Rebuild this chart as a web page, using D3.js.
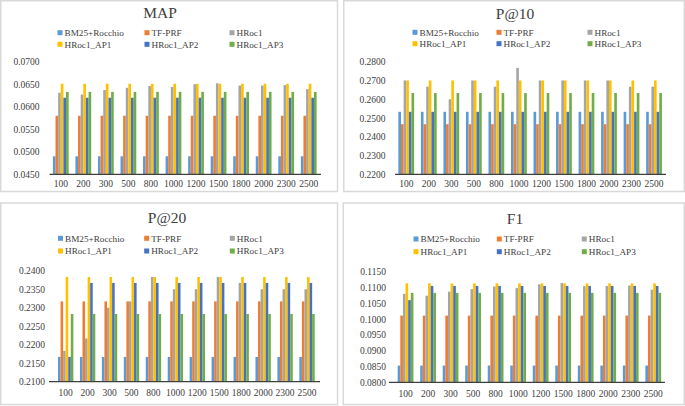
<!DOCTYPE html>
<html>
<head>
<meta charset="utf-8">
<script src="https://cdn.jsdelivr.net/npm/d3@7/dist/d3.min.js"></script>
<style>
  html, body { margin: 0; padding: 0; background: #fff; }
  svg { display: block; }
  text { font-family: "Liberation Serif", "Times New Roman", serif; fill: #404040; }
</style>
</head>
<body>
<svg id="chart" width="685" height="406"></svg>
<script>
// ---------- DATA ----------
const categories = ["100","200","300","500","800","1000","1200","1500","1800","2000","2300","2500"];
const seriesNames = ["BM25+Rocchio","TF-PRF","HRoc1","HRoc1_AP1","HRoc1_AP2","HRoc1_AP3"];
const seriesColors = ["#5B9BD5","#ED7D31","#A5A5A5","#FFC000","#4472C4","#70AD47"];

// MAP
const mapBM25   = [0.0490,0.0490,0.0490,0.0490,0.0490,0.0490,0.0490,0.0490,0.0490,0.0490,0.0490,0.0490];
const mapTFPRF  = [0.0580,0.0580,0.0580,0.0580,0.0580,0.0580,0.0580,0.0580,0.0580,0.0580,0.0580,0.0580];
const mapHRoc1  = [0.0631,0.0627,0.0637,0.0642,0.0646,0.0644,0.0650,0.0652,0.0647,0.0647,0.0648,0.0639];
const mapAP1    = [0.0651,0.0651,0.0651,0.0651,0.0651,0.0651,0.0651,0.0651,0.0651,0.0651,0.0651,0.0651];
const mapAP2    = [0.0620,0.0620,0.0620,0.0620,0.0620,0.0620,0.0620,0.0620,0.0620,0.0620,0.0620,0.0620];
const mapAP3    = [0.0633,0.0633,0.0633,0.0633,0.0633,0.0633,0.0633,0.0633,0.0633,0.0633,0.0633,0.0633];
const mapTicks  = [0.0450,0.0500,0.0550,0.0600,0.0650,0.0700];

// P@10
const p10BM25   = [0.2533,0.2533,0.2533,0.2533,0.2533,0.2533,0.2533,0.2533,0.2533,0.2533,0.2533,0.2533];
const p10TFPRF  = [0.2467,0.2467,0.2467,0.2467,0.2467,0.2467,0.2467,0.2467,0.2467,0.2467,0.2467,0.2467];
const p10HRoc1  = [0.2700,0.2667,0.2600,0.2700,0.2667,0.2767,0.2700,0.2700,0.2700,0.2700,0.2667,0.2667];
const p10AP1    = [0.2700,0.2700,0.2700,0.2700,0.2700,0.2700,0.2700,0.2700,0.2700,0.2700,0.2700,0.2700];
const p10AP2    = [0.2533,0.2533,0.2533,0.2533,0.2533,0.2533,0.2533,0.2533,0.2533,0.2533,0.2533,0.2533];
const p10AP3    = [0.2633,0.2633,0.2633,0.2633,0.2633,0.2633,0.2633,0.2633,0.2633,0.2633,0.2633,0.2633];
const p10Ticks  = [0.2200,0.2300,0.2400,0.2500,0.2600,0.2700,0.2800];

// P@20
const p20BM25   = [0.2167,0.2167,0.2167,0.2167,0.2167,0.2167,0.2167,0.2167,0.2167,0.2167,0.2167,0.2167];
const p20TFPRF  = [0.2317,0.2317,0.2317,0.2317,0.2317,0.2317,0.2317,0.2317,0.2317,0.2317,0.2317,0.2317];
const p20HRoc1  = [0.2183,0.2217,0.2300,0.2317,0.2383,0.2350,0.2350,0.2383,0.2367,0.2350,0.2350,0.2350];
const p20AP1    = [0.2383,0.2383,0.2383,0.2383,0.2383,0.2383,0.2383,0.2383,0.2383,0.2383,0.2383,0.2383];
const p20AP2    = [0.2167,0.2367,0.2367,0.2367,0.2367,0.2367,0.2367,0.2367,0.2367,0.2367,0.2367,0.2367];
const p20AP3    = [0.2283,0.2283,0.2283,0.2283,0.2283,0.2283,0.2283,0.2283,0.2283,0.2283,0.2283,0.2283];
const p20Ticks  = [0.2100,0.2150,0.2200,0.2250,0.2300,0.2350,0.2400];

// F1
const f1BM25    = [0.0853,0.0853,0.0853,0.0853,0.0853,0.0853,0.0853,0.0853,0.0853,0.0853,0.0853,0.0853];
const f1TFPRF   = [0.1011,0.1011,0.1011,0.1011,0.1011,0.1011,0.1011,0.1011,0.1011,0.1011,0.1011,0.1011];
const f1HRoc1   = [0.1080,0.1074,0.1087,0.1095,0.1103,0.1098,0.1110,0.1114,0.1104,0.1105,0.1106,0.1093];
const f1AP1     = [0.1113,0.1113,0.1113,0.1113,0.1113,0.1113,0.1113,0.1113,0.1113,0.1113,0.1113,0.1113];
const f1AP2     = [0.1060,0.1105,0.1105,0.1105,0.1105,0.1105,0.1105,0.1105,0.1105,0.1105,0.1105,0.1105];
const f1AP3     = [0.1083,0.1083,0.1083,0.1083,0.1083,0.1083,0.1083,0.1083,0.1083,0.1083,0.1083,0.1083];
const f1Ticks   = [0.0800,0.0850,0.0900,0.0950,0.1000,0.1050,0.1100,0.1150];

const panelTitles = ["MAP","P@10","P@20","F1"];

// ---------- LAYOUT ----------
const panels = [
  { title: panelTitles[0], series: [mapBM25,mapTFPRF,mapHRoc1,mapAP1,mapAP2,mapAP3], ticks: mapTicks,
    box: [0.75, 0.75, 337.5, 191.5], titleX: 160, titleY: 17.5,
    legendRows: [32.7, 44.3], legendCols: [60, 147, 232],
    xRange: [49.5, 320], yRange: [174.3, 61.7], labelRight: 39.5, xLabelY: 186.5, axisLine: [49.5, 321] },
  { title: panelTitles[1], series: [p10BM25,p10TFPRF,p10HRoc1,p10AP1,p10AP2,p10AP3], ticks: p10Ticks,
    box: [343.75, 0.75, 684.25, 191.5], titleX: 515, titleY: 18.5,
    legendRows: [32.3, 43.7], legendCols: [415, 499, 590],
    xRange: [395, 665.3], yRange: [174.3, 61.7], labelRight: 385.5, xLabelY: 186.5, axisLine: [395, 666] },
  { title: panelTitles[2], series: [p20BM25,p20TFPRF,p20HRoc1,p20AP1,p20AP2,p20AP3], ticks: p20Ticks,
    box: [0.75, 203, 337.5, 404.5], titleX: 167, titleY: 222.5,
    legendRows: [238.3, 251], legendCols: [60.5, 146.7, 232.3],
    xRange: [54.7, 318], yRange: [381.7, 270.7], labelRight: 45, xLabelY: 396, axisLine: [49, 320] },
  { title: panelTitles[3], series: [f1BM25,f1TFPRF,f1HRoc1,f1AP1,f1AP2,f1AP3], ticks: f1Ticks,
    box: [343.25, 203, 684.25, 404.5], titleX: 515, titleY: 223.5,
    legendRows: [239, 251.7], legendCols: [416, 499.3, 584.3],
    xRange: [394.3, 664.5], yRange: [382.3, 271.7], labelRight: 386, xLabelY: 396.5, axisLine: [389, 665] }
];

const svg = d3.select("#chart");
svg.append("rect").attr("x",0).attr("y",0).attr("width",685).attr("height",406).attr("fill","#fff");

panels.forEach(p => {
  const g = svg.append("g");
  // panel border
  g.append("rect")
    .attr("x", p.box[0]).attr("y", p.box[1])
    .attr("width", p.box[2]-p.box[0]).attr("height", p.box[3]-p.box[1])
    .attr("fill", "none").attr("stroke", "#d9d9d9").attr("stroke-width", 1.5);

  // title
  g.append("text").attr("x", p.titleX).attr("y", p.titleY)
    .attr("text-anchor","middle").attr("font-size", 15.5).style("fill","#404040")
    .text(p.title);

  // legend
  seriesNames.forEach((name, i) => {
    const row = Math.floor(i/3), col = i % 3;
    const lx = p.legendCols[col], ly = p.legendRows[row];
    g.append("rect").attr("x", lx-2.5).attr("y", ly-2.5).attr("width",5).attr("height",5)
      .attr("fill", seriesColors[i]);
    g.append("text").attr("x", lx+4.5).attr("y", ly+3.2)
      .attr("font-size", 9.2).style("fill","#404040").text(name);
  });

  // scales
  const x0 = d3.scaleBand().domain(categories).range(p.xRange).paddingInner(0.3).paddingOuter(0.15);
  const x1 = d3.scaleBand().domain(d3.range(seriesNames.length)).range([0, x0.bandwidth()]);
  const y = d3.scaleLinear().domain([p.ticks[0], p.ticks[p.ticks.length-1]]).range(p.yRange);

  // bars
  const groups = g.selectAll("g.grp").data(categories).enter().append("g")
    .attr("transform", d => `translate(${x0(d)},0)`);
  groups.selectAll("rect").data((d, ci) => p.series.map((s, si) => ({si, v: s[ci]})))
    .enter().append("rect")
    .attr("x", d => x1(d.si))
    .attr("width", x1.bandwidth())
    .attr("y", d => y(d.v))
    .attr("height", d => y(p.ticks[0]) - y(d.v))
    .attr("fill", d => seriesColors[d.si]);

  // y tick labels
  p.ticks.forEach(t => {
    g.append("text").attr("x", p.labelRight).attr("y", y(t) + 3.5)
      .attr("text-anchor","end").attr("font-size", 9.5).style("fill","#404040")
      .text(t.toFixed(4));
  });

  // x axis line
  g.append("line").attr("x1", p.axisLine[0]).attr("x2", p.axisLine[1])
    .attr("y1", y(p.ticks[0])).attr("y2", y(p.ticks[0]))
    .attr("stroke", "#404040").attr("stroke-width", 1.3);

  // x labels
  categories.forEach(c => {
    g.append("text").attr("x", x0(c) + x0.bandwidth()/2).attr("y", p.xLabelY)
      .attr("text-anchor","middle").attr("font-size", 9.5).style("fill","#404040")
      .text(c);
  });
});
</script>
</body>
</html>
